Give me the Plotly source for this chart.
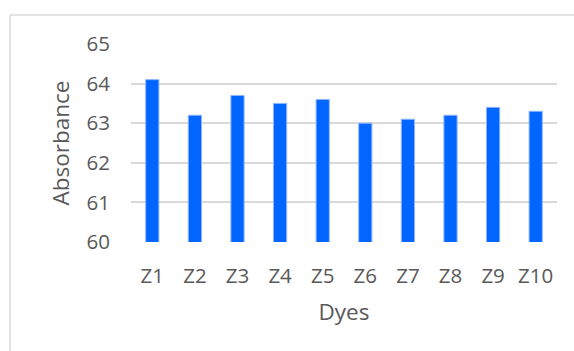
import plotly.graph_objects as go

dyes = ["Z1", "Z2", "Z3", "Z4", "Z5", "Z6", "Z7", "Z8", "Z9", "Z10"]
absorbance = [64.1, 63.2, 63.7, 63.5, 63.6, 63.0, 63.1, 63.2, 63.4, 63.3]
y_ticks = [60, 61, 62, 63, 64, 65]

font_family = "Open Sans"
text_color = "#595959"
grid_color = "#d9d9d9"

fig = go.Figure(
    go.Bar(
        x=dyes,
        y=absorbance,
        base=0,
        width=0.31,
        marker=dict(color="#0066ff", line=dict(color="#8fb4ff", width=1)),
    )
)

fig.update_layout(
    width=574,
    height=351,
    margin=dict(l=131, r=17, t=44, b=109),
    paper_bgcolor="white",
    plot_bgcolor="white",
    showlegend=False,
    font=dict(family=font_family, size=20, color=text_color),
    xaxis=dict(
        title=dict(text="Dyes", font=dict(size=22.5, color=text_color), standoff=16),
        showgrid=False,
        showline=False,
        ticks="",
        ticklabelstandoff=19,
        tickfont=dict(size=20.5, color=text_color),
    ),
    yaxis=dict(
        title=dict(text="Absorbance", font=dict(size=22.5, color=text_color), standoff=10),
        range=[60, 65],
        tickvals=y_ticks,
        showgrid=True,
        gridcolor=grid_color,
        gridwidth=1.5,
        zeroline=False,
        showline=False,
        ticks="",
        ticklabelstandoff=20,
        tickfont=dict(size=20.5, color=text_color),
    ),
    shapes=[
        # chart area border (runs off the right and bottom edges)
        dict(type="line", xref="paper", yref="paper",
             x0=-121 / 426, x1=1.1, y0=1 + 29 / 198, y1=1 + 29 / 198,
             line=dict(color=grid_color, width=1.5)),
        dict(type="line", xref="paper", yref="paper",
             x0=-121 / 426, x1=-121 / 426, y0=1 + 29 / 198, y1=-0.6,
             line=dict(color=grid_color, width=1.5)),
    ],
)

fig.write_html("out.html")
